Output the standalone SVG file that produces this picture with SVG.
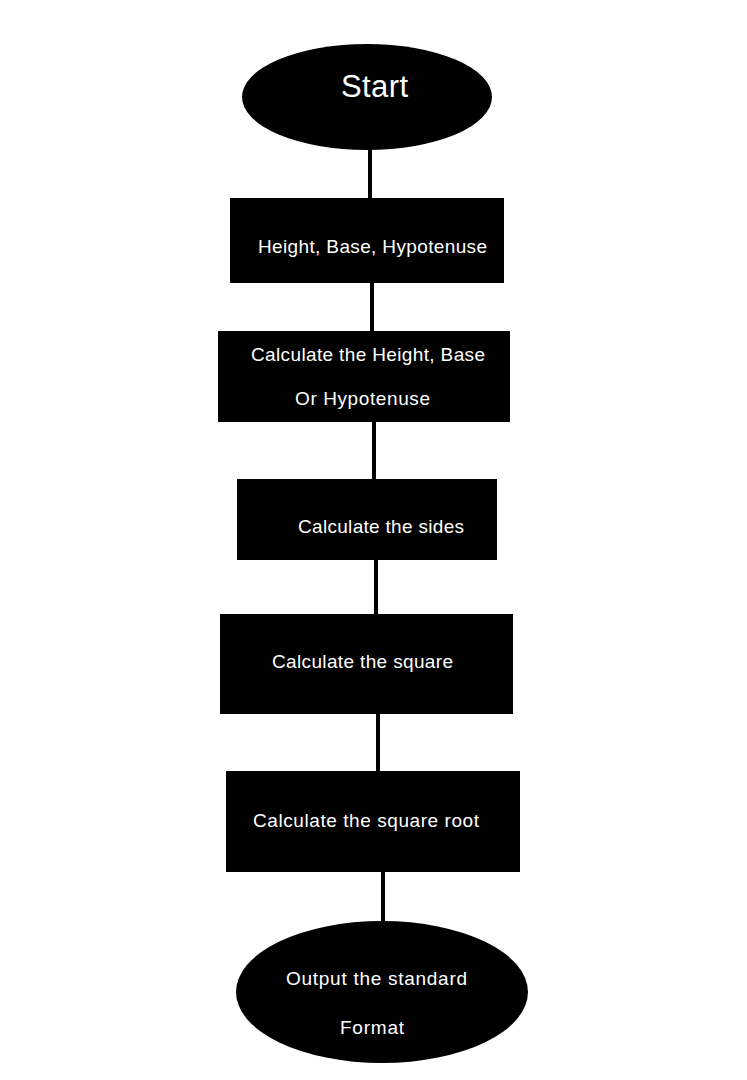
<svg xmlns="http://www.w3.org/2000/svg" width="747" height="1080" viewBox="0 0 747 1080">
<style>
.n{fill:#000}
.t{fill:#fff;font-family:"Liberation Sans",Arial,sans-serif;font-size:19px}
.c{stroke:#000;stroke-width:4;fill:none}
</style>
<rect width="747" height="1080" fill="#fff"/>
<g id="connectors">
<line class="c" x1="370" y1="148" x2="370" y2="199"/>
<line class="c" x1="372" y1="282" x2="372" y2="332"/>
<line class="c" x1="374" y1="421" x2="374" y2="480"/>
<line class="c" x1="376" y1="559" x2="376" y2="615"/>
<line class="c" x1="378" y1="713" x2="378" y2="772"/>
<line class="c" x1="383" y1="871" x2="383" y2="922"/>
</g>
<g id="start">
<ellipse class="n" cx="367" cy="97" rx="125" ry="53"/>
<text class="t" x="341" y="97" style="font-size:31px" textLength="67">Start</text>
</g>
<g id="input">
<rect class="n" x="230" y="198" width="274" height="85"/>
<text class="t" x="258" y="253" textLength="229">Height, Base, Hypotenuse</text>
</g>
<g id="calc1">
<rect class="n" x="218" y="331" width="292" height="91"/>
<text class="t" x="251" y="361" textLength="234">Calculate the Height, Base</text>
<text class="t" x="295" y="405" textLength="135">Or Hypotenuse</text>
</g>
<g id="sides">
<rect class="n" x="237" y="479" width="260" height="81"/>
<text class="t" x="298" y="533" textLength="166">Calculate the sides</text>
</g>
<g id="square">
<rect class="n" x="220" y="614" width="293" height="100"/>
<text class="t" x="272" y="668" textLength="181">Calculate the square</text>
</g>
<g id="root">
<rect class="n" x="226" y="771" width="294" height="101"/>
<text class="t" x="253" y="827" textLength="226">Calculate the square root</text>
</g>
<g id="end">
<ellipse class="n" cx="382" cy="992" rx="146" ry="71"/>
<text class="t" x="286" y="985" textLength="181">Output the standard</text>
<text class="t" x="340" y="1034" textLength="64">Format</text>
</g>
</svg>
